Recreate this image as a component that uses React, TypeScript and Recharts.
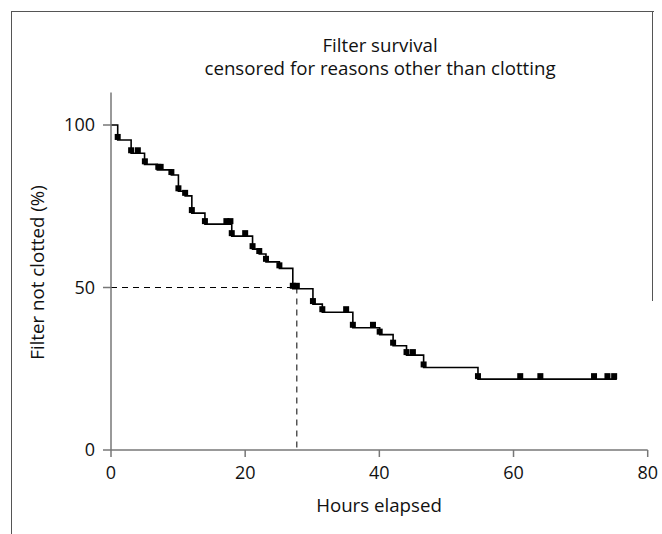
import { ComposedChart, Line, Scatter, XAxis, YAxis, ReferenceLine } from "recharts"

// Kaplan-Meier step curve (hours, % not clotted)
const stepHours = [0, 1.0, 3.0, 5.0, 6.9, 9.0, 10.05, 11.05, 12.05, 14.0, 18.0, 21.1, 22.1, 23.1, 25.1, 27.1, 30.1, 31.5, 36.05, 40.05, 42.05, 44.05, 46.6, 54.7, 75.4]
const stepSurvival = [100, 95.4, 91.3, 87.9, 86.2, 84.6, 79.6, 78.2, 72.9, 69.5, 65.8, 61.8, 60.3, 57.9, 55.9, 49.6, 44.9, 42.4, 37.6, 35.5, 32.1, 29.2, 25.4, 21.8, 21.8]

// tick marks on the curve
const markHours = [1.0, 3.0, 4.0, 5.05, 7.05, 7.4, 9.0, 10.05, 11.05, 12.05, 14.0, 17.2, 17.8, 18.0, 20.0, 21.1, 22.1, 23.1, 25.1, 27.1, 27.7, 30.1, 31.5, 35.05, 36.05, 39.05, 40.05, 42.05, 44.05, 45.0, 46.6, 54.7, 61.0, 64.0, 72.0, 74.0, 75.0]
const markSurvival = [95.4, 91.3, 91.3, 87.9, 86.2, 86.2, 84.6, 79.6, 78.2, 72.9, 69.5, 69.5, 69.5, 65.8, 65.8, 61.8, 60.3, 57.9, 55.9, 49.6, 49.6, 44.9, 42.4, 42.4, 37.6, 37.6, 35.5, 32.1, 29.2, 29.2, 25.4, 21.8, 21.8, 21.8, 21.8, 21.8, 21.8]

const medianHours = 27.7
const xTicks = [0, 20, 40, 60, 80]
const yTicks = [0, 50, 100]

const curve = stepHours.map((t, i) => ({ t, s: stepSurvival[i] }))
const marks = markHours.map((t, i) => ({ t, s: markSurvival[i] }))

const font = "'Open Sans', 'Noto Sans', sans-serif"
const axisColor = "#777"
const frame = "1.5px solid #555"
const tickStyle = { fill: "#111", fontSize: 18, fontFamily: font }
const labelStyle = { position: "absolute" as const, textAlign: "center" as const, fontSize: 18.7, lineHeight: "23px" }

const Mark = (props: any) => {
  const { cx, cy } = props
  if (cx == null || cy == null) return null
  return <rect x={cx - 3} y={cy - 6} width={6} height={6} fill="#000" />
}

export default function App() {
  return (
    <div style={{ position: "fixed", left: 0, top: 0, width: 662, height: 534, background: "#fff", fontFamily: font, color: "#111" }}>
      {/* frame: full left + top, right side only partway down */}
      <div style={{ position: "absolute", left: 10.5, top: 10.5, width: 643, height: 524, boxSizing: "border-box", borderTop: frame, borderLeft: frame }} />
      <div style={{ position: "absolute", left: 652, top: 10.5, width: 0, height: 290, borderRight: frame }} />

      <div style={{ ...labelStyle, left: 180, top: 33, width: 400 }}>
        Filter survival
        <br />
        censored for reasons other than clotting
      </div>
      <div style={{ ...labelStyle, left: 229, top: 493, width: 300 }}>Hours elapsed</div>
      <div style={{ ...labelStyle, left: 35.5 - 150, top: 272 - 11.5, width: 300, transform: "rotate(-90deg)" }}>
        Filter not clotted (%)
      </div>

      <div style={{ position: "absolute", left: 0, top: 0 }}>
        <ComposedChart width={662} height={534} margin={{ top: 92.5, right: 14.3, bottom: 44, left: 41 }}>
          <XAxis
            type="number"
            dataKey="t"
            domain={[0, 80]}
            ticks={xTicks}
            allowDataOverflow
            height={40}
            stroke={axisColor}
            strokeWidth={1.5}
            tickSize={7}
            tickMargin={9}
            tick={tickStyle}
          />
          <YAxis
            type="number"
            dataKey="s"
            domain={[0, 110]}
            ticks={yTicks}
            allowDataOverflow
            width={70}
            stroke={axisColor}
            strokeWidth={1.5}
            tickSize={8}
            tickMargin={8}
            tick={tickStyle}
          />
          <ReferenceLine segment={[{ x: 0, y: 50 }, { x: medianHours, y: 50 }]} stroke="#000" strokeWidth={1} strokeDasharray="6 5" />
          <ReferenceLine segment={[{ x: medianHours, y: 50 }, { x: medianHours, y: 0 }]} stroke="#000" strokeWidth={1} strokeDasharray="6 5" />
          <Line
            data={curve}
            dataKey="s"
            type="stepAfter"
            stroke="#000"
            strokeWidth={1.6}
            dot={false}
            activeDot={false}
            isAnimationActive={false}
          />
          <Scatter data={marks} dataKey="s" shape={Mark} isAnimationActive={false} />
        </ComposedChart>
      </div>
    </div>
  )
}
